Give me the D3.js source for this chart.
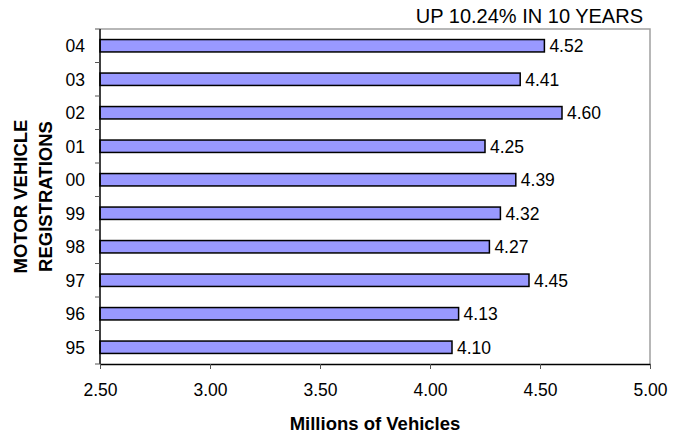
<!DOCTYPE html>
<html>
<head>
<meta charset="utf-8">
<script src="https://cdn.jsdelivr.net/npm/d3@7"></script>
<style>
  body { margin: 0; background: #fff; }
  svg { font-family: "Liberation Sans", Arial, sans-serif; }
</style>
</head>
<body>
<div id="chart"></div>
<script>
const years = ["04", "03", "02", "01", "00", "99", "98", "97", "96", "95"];
const registrations = [4.52, 4.41, 4.60, 4.25, 4.39, 4.32, 4.27, 4.45, 4.13, 4.10];
const xTicks = [2.5, 3.0, 3.5, 4.0, 4.5, 5.0];

const W = 684, H = 435;
const m = { left: 100, right: 34, top: 29, bottom: 71 };
const iw = W - m.left - m.right, ih = H - m.top - m.bottom;

const svg = d3.select("#chart").append("svg").attr("width", W).attr("height", H);
const g = svg.append("g").attr("transform", `translate(${m.left},${m.top})`);

const x = d3.scaleLinear().domain([2.5, 5.0]).range([0, iw]);
const y = d3.scaleBand().domain(years).range([0, ih]).paddingInner(0.63).paddingOuter(0.315);
const yTick = d3.scaleBand().domain(years).range([0, ih]);

// gray frame top/right
g.append("path")
  .attr("d", `M0,0H${iw}V${ih}`)
  .attr("fill", "none")
  .attr("stroke", "#a0a0a0")
  .attr("stroke-width", 1.5);

// bars
g.selectAll("rect.bar")
  .data(registrations)
  .enter()
  .append("rect")
  .attr("class", "bar")
  .attr("x", x(2.5))
  .attr("y", (d, i) => y(years[i]))
  .attr("width", (d) => x(d) - x(2.5))
  .attr("height", y.bandwidth())
  .attr("fill", "#9999ff")
  .attr("stroke", "#000")
  .attr("stroke-width", 1.5);

// value labels
g.selectAll("text.val")
  .data(registrations)
  .enter()
  .append("text")
  .attr("class", "val")
  .attr("x", (d) => x(d) + 5)
  .attr("y", (d, i) => y(years[i]) + y.bandwidth() / 2)
  .attr("dy", "0.36em")
  .attr("font-size", 17.5)
  .text((d) => d.toFixed(2));

// x axis
const xAxis = g.append("g")
  .attr("transform", `translate(0,${ih})`)
  .call(d3.axisBottom(x).tickValues(xTicks).tickFormat(d3.format(".2f")).tickSize(5).tickSizeOuter(0));
xAxis.select(".domain").attr("stroke", "#000").attr("stroke-width", 1.5);
xAxis.selectAll(".tick line").attr("stroke", "#555");
xAxis.selectAll(".tick text")
  .attr("font-size", 17.5)
  .attr("font-family", "Liberation Sans, Arial, sans-serif")
  .attr("fill", "#000")
  .attr("y", 32)
  .attr("dy", 0);

// y axis: ticks between categories
const yAxisG = g.append("g");
yAxisG.append("line")
  .attr("x1", 0).attr("x2", 0).attr("y1", 0).attr("y2", ih)
  .attr("stroke", "#000").attr("stroke-width", 1.5);
yAxisG.selectAll("line.tk")
  .data(years.concat(["end"]))
  .enter()
  .append("line")
  .attr("class", "tk")
  .attr("x1", -5).attr("x2", 0)
  .attr("y1", (d, i) => i < years.length ? yTick(d) : ih)
  .attr("y2", (d, i) => i < years.length ? yTick(d) : ih)
  .attr("stroke", "#555");
yAxisG.selectAll("text")
  .data(years)
  .enter()
  .append("text")
  .attr("x", -15)
  .attr("y", (d) => yTick(d) + yTick.bandwidth() / 2)
  .attr("dy", "0.36em")
  .attr("text-anchor", "end")
  .attr("font-size", 17.5)
  .text((d) => d);

// title
svg.append("text")
  .attr("x", 643).attr("y", 22.5)
  .attr("text-anchor", "end")
  .attr("font-size", 20)
  .text("UP 10.24% IN 10 YEARS");

// x axis title
svg.append("text")
  .attr("x", 375).attr("y", 430)
  .attr("text-anchor", "middle")
  .attr("font-size", 18.5)
  .attr("font-weight", "bold")
  .text("Millions of Vehicles");

// y axis title (two lines)
const yt = svg.append("text")
  .attr("transform", `translate(27,${m.top + ih / 2}) rotate(-90)`)
  .attr("text-anchor", "middle")
  .attr("font-size", 18.5)
  .attr("font-weight", "bold");
yt.append("tspan").attr("x", 0).attr("dy", 0).text("MOTOR VEHICLE");
yt.append("tspan").attr("x", 0).attr("dy", 25).text("REGISTRATIONS");
</script>
</body>
</html>
